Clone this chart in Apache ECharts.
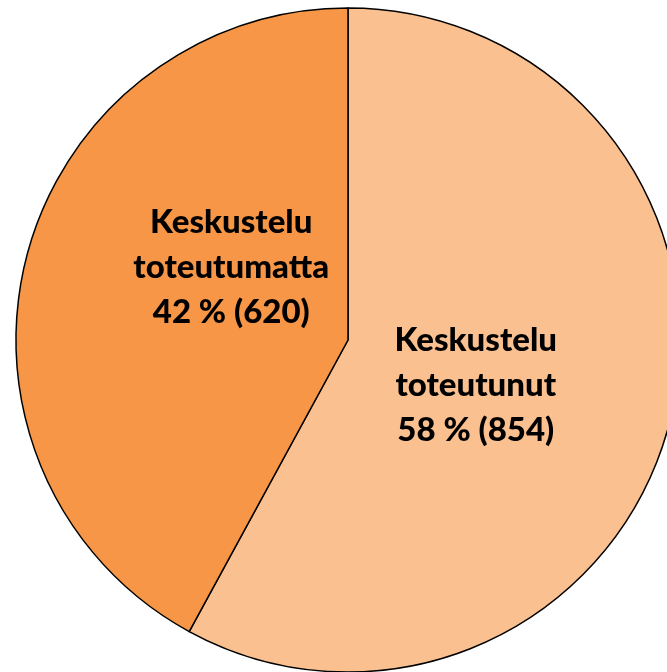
<!DOCTYPE html>
<html>
<head>
<meta charset="utf-8">
<script src="https://cdn.jsdelivr.net/npm/echarts@6/dist/echarts.min.js"></script>
<style>
html, body { margin: 0; padding: 0; background: #fff; }
#chart { width: 667px; height: 672px; }
</style>
</head>
<body>
<div id="chart"></div>
<script>
var names = ['Keskustelu\ntoteutunut', 'Keskustelu\ntoteutumatta'];
var values = [854, 620];
var colors = ['#FAC090', '#F79646'];
var offsets = [[-36, 4], [47, -31]];

var total = values.reduce(function (a, b) { return a + b; }, 0);

var myChart = echarts.init(document.getElementById('chart'));
var option = {
    animation: false,
    series: [{
        type: 'pie',
        center: [348, 340],
        radius: 332,
        startAngle: 90,
        clockwise: true,
        itemStyle: {
            borderColor: '#000',
            borderWidth: 1.5
        },
        label: {
            position: 'inside',
            color: '#000',
            fontFamily: 'Lato',
            fontWeight: 900,
            fontSize: 33,
            lineHeight: 45,
            align: 'center',
            formatter: function (p) {
                var pct = Math.round(p.value / total * 100);
                return p.name + '\n' + pct + ' % (' + p.value + ')';
            }
        },
        emphasis: { disabled: true },
        data: values.map(function (v, i) {
            return {
                name: names[i],
                value: v,
                itemStyle: { color: colors[i] },
                label: { offset: offsets[i] }
            };
        })
    }]
};
myChart.setOption(option);
</script>
</body>
</html>
